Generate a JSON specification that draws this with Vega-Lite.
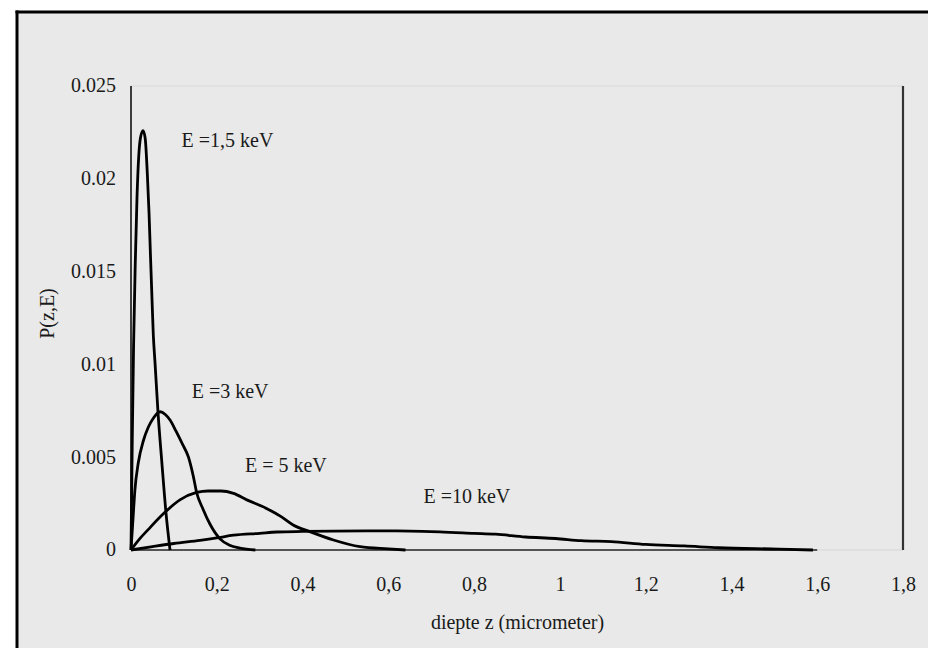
{
  "$schema": "https://vega.github.io/schema/vega-lite/v6.json",
  "width": 911.5,
  "height": 636.5,
  "autosize": {"type": "none"},
  "padding": {"left": 16.5, "top": 11.5, "right": 0, "bottom": 0},
  "background": "white",
  "config": {
    "view": {"fill": "#e8e9e8", "stroke": null},
    "font": "Liberation Serif"
  },
  "datasets": {
    "curves": [
      {"E": "1,5 keV", "z": 0, "p": 0},
      {"E": "1,5 keV", "z": 0.003, "p": 0.006},
      {"E": "1,5 keV", "z": 0.006, "p": 0.011},
      {"E": "1,5 keV", "z": 0.01, "p": 0.0155},
      {"E": "1,5 keV", "z": 0.014, "p": 0.019},
      {"E": "1,5 keV", "z": 0.018, "p": 0.0212},
      {"E": "1,5 keV", "z": 0.022, "p": 0.0222},
      {"E": "1,5 keV", "z": 0.028, "p": 0.0226},
      {"E": "1,5 keV", "z": 0.033, "p": 0.0222},
      {"E": "1,5 keV", "z": 0.038, "p": 0.0203},
      {"E": "1,5 keV", "z": 0.042, "p": 0.0182},
      {"E": "1,5 keV", "z": 0.0455, "p": 0.0158},
      {"E": "1,5 keV", "z": 0.049, "p": 0.0135},
      {"E": "1,5 keV", "z": 0.052, "p": 0.0116},
      {"E": "1,5 keV", "z": 0.056, "p": 0.0101},
      {"E": "1,5 keV", "z": 0.063, "p": 0.0074},
      {"E": "1,5 keV", "z": 0.072, "p": 0.0047},
      {"E": "1,5 keV", "z": 0.0816, "p": 0.002},
      {"E": "1,5 keV", "z": 0.091, "p": 0},

      {"E": "3 keV", "z": 0, "p": 0},
      {"E": "3 keV", "z": 0.005, "p": 0.0018},
      {"E": "3 keV", "z": 0.009, "p": 0.0032},
      {"E": "3 keV", "z": 0.017, "p": 0.0047},
      {"E": "3 keV", "z": 0.029, "p": 0.0059},
      {"E": "3 keV", "z": 0.04, "p": 0.0066},
      {"E": "3 keV", "z": 0.052, "p": 0.0071},
      {"E": "3 keV", "z": 0.068, "p": 0.00745},
      {"E": "3 keV", "z": 0.08, "p": 0.0073},
      {"E": "3 keV", "z": 0.091, "p": 0.007},
      {"E": "3 keV", "z": 0.105, "p": 0.0064},
      {"E": "3 keV", "z": 0.12, "p": 0.0057},
      {"E": "3 keV", "z": 0.134, "p": 0.005},
      {"E": "3 keV", "z": 0.145, "p": 0.004},
      {"E": "3 keV", "z": 0.153, "p": 0.0031},
      {"E": "3 keV", "z": 0.168, "p": 0.0022},
      {"E": "3 keV", "z": 0.184, "p": 0.0014},
      {"E": "3 keV", "z": 0.2075, "p": 0.0006},
      {"E": "3 keV", "z": 0.23, "p": 0.00025},
      {"E": "3 keV", "z": 0.254, "p": 0.0001},
      {"E": "3 keV", "z": 0.29, "p": 0},

      {"E": "5 keV", "z": 0, "p": 0},
      {"E": "5 keV", "z": 0.02, "p": 0.0006},
      {"E": "5 keV", "z": 0.04, "p": 0.0011},
      {"E": "5 keV", "z": 0.0754, "p": 0.00195},
      {"E": "5 keV", "z": 0.114, "p": 0.0027},
      {"E": "5 keV", "z": 0.153, "p": 0.0031},
      {"E": "5 keV", "z": 0.18, "p": 0.00318},
      {"E": "5 keV", "z": 0.21, "p": 0.00318},
      {"E": "5 keV", "z": 0.239, "p": 0.00305},
      {"E": "5 keV", "z": 0.27, "p": 0.0027},
      {"E": "5 keV", "z": 0.316, "p": 0.00224},
      {"E": "5 keV", "z": 0.35, "p": 0.0018},
      {"E": "5 keV", "z": 0.378, "p": 0.00135},
      {"E": "5 keV", "z": 0.417, "p": 0.00099},
      {"E": "5 keV", "z": 0.472, "p": 0.00054},
      {"E": "5 keV", "z": 0.534, "p": 0.00018},
      {"E": "5 keV", "z": 0.6, "p": 0.00006},
      {"E": "5 keV", "z": 0.64, "p": 0},

      {"E": "10 keV", "z": 0, "p": 0},
      {"E": "10 keV", "z": 0.05, "p": 0.00018},
      {"E": "10 keV", "z": 0.1, "p": 0.00035},
      {"E": "10 keV", "z": 0.161, "p": 0.00052},
      {"E": "10 keV", "z": 0.2, "p": 0.00065},
      {"E": "10 keV", "z": 0.239, "p": 0.0008},
      {"E": "10 keV", "z": 0.3, "p": 0.0009},
      {"E": "10 keV", "z": 0.34, "p": 0.00097},
      {"E": "10 keV", "z": 0.4, "p": 0.001},
      {"E": "10 keV", "z": 0.472, "p": 0.00102},
      {"E": "10 keV", "z": 0.55, "p": 0.00103},
      {"E": "10 keV", "z": 0.65, "p": 0.00102},
      {"E": "10 keV", "z": 0.72, "p": 0.00098},
      {"E": "10 keV", "z": 0.8, "p": 0.0009},
      {"E": "10 keV", "z": 0.85, "p": 0.00085},
      {"E": "10 keV", "z": 0.92, "p": 0.0007},
      {"E": "10 keV", "z": 0.99, "p": 0.00062},
      {"E": "10 keV", "z": 1.05, "p": 0.0005},
      {"E": "10 keV", "z": 1.12, "p": 0.00045},
      {"E": "10 keV", "z": 1.2, "p": 0.0003},
      {"E": "10 keV", "z": 1.29, "p": 0.00022},
      {"E": "10 keV", "z": 1.37, "p": 0.00012},
      {"E": "10 keV", "z": 1.51, "p": 0.00005},
      {"E": "10 keV", "z": 1.59, "p": 0}
    ],
    "labels": [
      {"label": "E =1,5 keV", "z": 0.225, "p": 0.02204},
      {"label": "E =3 keV", "z": 0.231, "p": 0.00849},
      {"label": "E = 5 keV", "z": 0.361, "p": 0.00453},
      {"label": "E =10 keV", "z": 0.783, "p": 0.00286}
    ],
    "one": [{}]
  },
  "layer": [
    {
      "data": {"name": "one"},
      "mark": {"type": "rule", "color": "#dadbda", "strokeWidth": 1},
      "encoding": {
        "x": {
          "datum": 0, "type": "quantitative",
          "scale": {"domain": [-0.26697, 1.85829], "nice": false, "zero": false},
          "axis": {"orient": "top", "offset": 0, "domain": true, "domainColor": "black", "domainWidth": 3, "domainCap": "square", "labels": false, "ticks": false, "grid": false, "title": null}
        },
        "x2": {"datum": 1.8},
        "y": {
          "datum": 0.025, "type": "quantitative",
          "scale": {"domain": [-0.0052802, 0.029014], "nice": false, "zero": false},
          "axis": {"orient": "left", "offset": 0, "domain": true, "domainColor": "black", "domainWidth": 3, "domainCap": "square", "labels": false, "ticks": false, "grid": false, "title": null}
        }
      }
    },
    {
      "data": {"name": "one"},
      "mark": {"type": "rule", "color": "#d5d6d5", "strokeWidth": 1},
      "encoding": {
        "x": {"datum": 1.6, "type": "quantitative", "scale": {"domain": [-0.26697, 1.85829], "nice": false, "zero": false}, "axis": null},
        "x2": {"datum": 1.8},
        "y": {"datum": 0, "type": "quantitative", "scale": {"domain": [-0.0052802, 0.029014], "nice": false, "zero": false}, "axis": null}
      }
    },
    {
      "data": {"name": "one"},
      "mark": {"type": "rule", "color": "#222222", "strokeWidth": 1.4},
      "encoding": {
        "x": {"datum": 0, "type": "quantitative", "scale": {"domain": [-0.26697, 1.85829], "nice": false, "zero": false}, "axis": null},
        "x2": {"datum": 1.6},
        "y": {"datum": 0, "type": "quantitative", "scale": {"domain": [-0.0052802, 0.029014], "nice": false, "zero": false}, "axis": null}
      }
    },
    {
      "data": {"name": "one"},
      "mark": {"type": "rule", "color": "#111111", "strokeWidth": 1.6},
      "encoding": {
        "x": {"datum": 0, "type": "quantitative", "scale": {"domain": [-0.26697, 1.85829], "nice": false, "zero": false}, "axis": null},
        "y": {"datum": 0, "type": "quantitative", "scale": {"domain": [-0.0052802, 0.029014], "nice": false, "zero": false}, "axis": null},
        "y2": {"datum": 0.025}
      }
    },
    {
      "data": {"name": "one"},
      "mark": {"type": "rule", "color": "#333333", "strokeWidth": 2.2},
      "encoding": {
        "x": {"datum": 1.8, "type": "quantitative", "scale": {"domain": [-0.26697, 1.85829], "nice": false, "zero": false}, "axis": null},
        "y": {"datum": 0, "type": "quantitative", "scale": {"domain": [-0.0052802, 0.029014], "nice": false, "zero": false}, "axis": null},
        "y2": {"datum": 0.025}
      }
    },
    {
      "data": {"name": "curves"},
      "mark": {"type": "line", "interpolate": "monotone", "color": "black", "strokeWidth": 2.8, "strokeJoin": "round"},
      "encoding": {
        "x": {
          "field": "z", "type": "quantitative",
          "scale": {"domain": [-0.26697, 1.85829], "nice": false, "zero": false},
          "axis": {
            "orient": "bottom", "offset": -98,
            "values": [0, 0.2, 0.4, 0.6, 0.8, 1, 1.2, 1.4, 1.6, 1.8],
            "format": ".1~f", "labelExpr": "replace(datum.label, '.', ',')",
            "domain": false, "ticks": false, "tickSize": 0, "grid": false,
            "labelPadding": 34, "labelBaseline": "middle", "labelFontSize": 20,
            "labelFont": "Liberation Serif", "labelColor": "#1a1a1a",
            "labelFlush": false, "labelOverlap": false,
            "title": "diepte z (micrometer)", "titleFont": "Liberation Serif",
            "titleFontSize": 20, "titleFontWeight": "normal", "titleColor": "#1a1a1a",
            "titleX": 500.5, "titleY": 72, "titleBaseline": "middle", "titleAlign": "center"
          }
        },
        "y": {
          "field": "p", "type": "quantitative",
          "scale": {"domain": [-0.0052802, 0.029014], "nice": false, "zero": false},
          "axis": {
            "orient": "left", "offset": -114.5,
            "values": [0, 0.005, 0.01, 0.015, 0.02, 0.025],
            "format": "~g",
            "domain": false, "ticks": false, "tickSize": 0, "grid": false,
            "labelPadding": 15.5, "labelBaseline": "middle", "labelFontSize": 20,
            "labelFont": "Liberation Serif", "labelColor": "#1a1a1a",
            "labelFlush": false, "labelOverlap": false,
            "title": "P(z,E)", "titleFont": "Liberation Serif",
            "titleFontSize": 20, "titleFontWeight": "normal", "titleColor": "#1a1a1a",
            "titleAngle": -90, "titleX": -83.5, "titleY": 301.5,
            "titleBaseline": "middle", "titleAlign": "center"
          }
        },
        "detail": {"field": "E"}
      }
    },
    {
      "data": {"name": "labels"},
      "mark": {"type": "text", "font": "Liberation Serif", "fontSize": 20, "color": "#1a1a1a", "align": "center", "baseline": "middle"},
      "encoding": {
        "x": {"field": "z", "type": "quantitative", "scale": {"domain": [-0.26697, 1.85829], "nice": false, "zero": false}, "axis": null},
        "y": {"field": "p", "type": "quantitative", "scale": {"domain": [-0.0052802, 0.029014], "nice": false, "zero": false}, "axis": null},
        "text": {"field": "label"}
      }
    }
  ],
  "resolve": {"axis": {"x": "independent", "y": "independent"}}
}
